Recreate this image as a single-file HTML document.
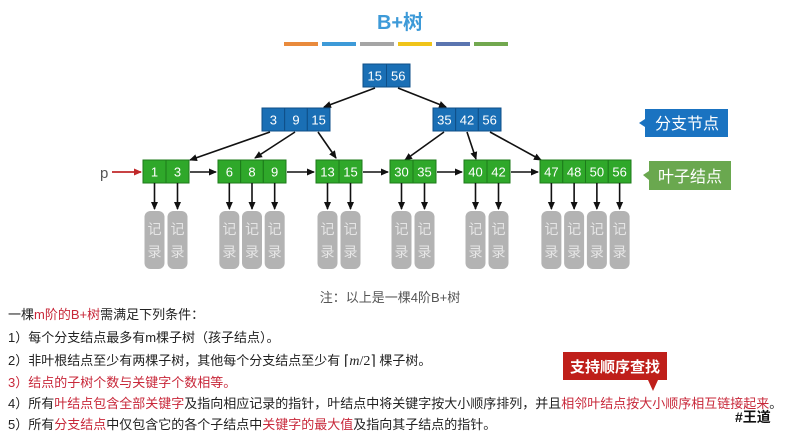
<!DOCTYPE html>
<html><head><meta charset="utf-8"><style>
body{margin:0;width:802px;height:428px;overflow:hidden;background:#fff;font-family:"Liberation Sans","Noto Sans CJK SC",sans-serif;position:relative}
.t{position:absolute;white-space:nowrap;font-size:13px;color:#222;left:8px}
.r{color:#c8283a}
</style></head><body>
<svg width="802" height="428" style="position:absolute;left:0;top:0" font-family="Liberation Sans, Noto Sans CJK SC, sans-serif">
<defs><marker id="a" markerWidth="8" markerHeight="8" refX="7" refY="4" orient="auto" markerUnits="userSpaceOnUse"><path d="M0,0.5 L8,4 L0,7.5z" fill="#111"/></marker>
<marker id="ar" markerWidth="8" markerHeight="8" refX="7" refY="4" orient="auto" markerUnits="userSpaceOnUse"><path d="M0,0.5 L8,4 L0,7.5z" fill="#c0282a"/></marker></defs>
<text x="400" y="29" text-anchor="middle" font-size="20" font-weight="bold" fill="#3d9ad8">B+树</text>
<g stroke-width="4"><line x1="284" y1="44" x2="318" y2="44" stroke="#e98a3c"/><line x1="322" y1="44" x2="356" y2="44" stroke="#3d9ad8"/><line x1="360" y1="44" x2="394" y2="44" stroke="#a5a5a5"/><line x1="398" y1="44" x2="432" y2="44" stroke="#f0c419"/><line x1="436" y1="44" x2="470" y2="44" stroke="#5b75b0"/><line x1="474" y1="44" x2="508" y2="44" stroke="#72a84f"/></g>
<g stroke="#111" stroke-width="1.6" fill="none">
<line x1="375" y1="88" x2="324" y2="107" marker-end="url(#a)"/><line x1="398" y1="88" x2="446" y2="107" marker-end="url(#a)"/>
<line x1="270" y1="132" x2="190" y2="160" marker-end="url(#a)"/><line x1="295" y1="132" x2="255" y2="158" marker-end="url(#a)"/><line x1="318" y1="132" x2="336" y2="158" marker-end="url(#a)"/>
<line x1="444" y1="132" x2="405" y2="160" marker-end="url(#a)"/><line x1="467" y1="132" x2="476" y2="159" marker-end="url(#a)"/><line x1="490" y1="132" x2="541" y2="160" marker-end="url(#a)"/>
<line x1="190" y1="172" x2="216" y2="172" marker-end="url(#a)"/><line x1="287" y1="172" x2="314" y2="172" marker-end="url(#a)"/><line x1="363" y1="172" x2="388" y2="172" marker-end="url(#a)"/><line x1="437" y1="172" x2="462" y2="172" marker-end="url(#a)"/><line x1="511" y1="172" x2="538" y2="172" marker-end="url(#a)"/>
</g>
<line x1="112" y1="172" x2="141" y2="172" stroke="#c0282a" stroke-width="1.8" marker-end="url(#ar)"/>
<text x="100" y="178" font-size="15" fill="#555">p</text>
<g id="nodes"></g>
<path d="M645,109 H728 V137 H645 V127 L639,123 L645,119 Z" fill="#1a73c1"/>
<text x="687" y="129" text-anchor="middle" font-size="16" fill="#fff">分支节点</text>
<path d="M649,161 H731 V190 H649 V180 L643,175 L649,171 Z" fill="#6aa84f"/>
<text x="690" y="182" text-anchor="middle" font-size="16" fill="#fff">叶子结点</text>
<text x="390" y="302" text-anchor="middle" font-size="13" fill="#555">注：以上是一棵4阶B+树</text>
<path d="M563,352 H667 V380 H658 L653,391 L648,380 H563 Z" fill="#bf1f1a"/>
<text x="615" y="372" text-anchor="middle" font-size="15" font-weight="bold" fill="#fff">支持顺序查找</text>
<text x="735" y="422" font-size="14" font-weight="bold" fill="#111">#王道</text>
</svg>
<div class="t" style="top:304px">一棵<span class="r">m阶的B+树</span>需满足下列条件：</div>
<div class="t" style="top:327px">1）每个分支结点最多有m棵子树（孩子结点）。</div>
<div class="t" style="top:350px">2）非叶根结点至少有两棵子树，其他每个分支结点至少有 <span style="font-family:'Liberation Serif',serif;font-size:14px">⌈<i>m</i>/2⌉</span> 棵子树。</div>
<div class="t r" style="top:372px">3）结点的子树个数与关键字个数相等。</div>
<div class="t" style="top:393px">4）所有<span class="r">叶结点包含全部关键字</span>及指向相应记录的指针，叶结点中将关键字按大小顺序排列，并且<span class="r">相邻叶结点按大小顺序相互链接起来</span>。</div>
<div class="t" style="top:414px">5）所有<span class="r">分支结点</span>中仅包含它的各个子结点中<span class="r">关键字的最大值</span>及指向其子结点的指针。</div>
<script>
var g=document.getElementById('nodes'),s='';
function node(x,y,w,keys,fill,stroke){var cw=w/keys.length;keys.forEach(function(k,i){s+='<rect x="'+(x+i*cw)+'" y="'+y+'" width="'+cw+'" height="23" fill="'+fill+'" stroke="'+stroke+'" stroke-width="1"/><text x="'+(x+i*cw+cw/2)+'" y="'+(y+16.5)+'" text-anchor="middle" font-size="13" fill="#fff">'+k+'</text>';});}
node(363,64,47,['15','56'],'#1a6fb5','#0f4f88');
node(262,108,68,['3','9','15'],'#1a6fb5','#0f4f88');
node(433,108,68,['35','42','56'],'#1a6fb5','#0f4f88');
var leaves=[[143,46,['1','3']],[218,68,['6','8','9']],[316,46,['13','15']],[390,46,['30','35']],[464,46,['40','42']],[540,91,['47','48','50','56']]];
leaves.forEach(function(l){node(l[0],160,l[1],l[2],'#2fa82a','#1c7a1a');var cw=l[1]/l[2].length;l[2].forEach(function(k,i){var cx=l[0]+i*cw+cw/2;
s+='<line x1="'+cx+'" y1="183" x2="'+cx+'" y2="209" stroke="#111" stroke-width="1.6" marker-end="url(#a)"/>';
s+='<rect x="'+(cx-10)+'" y="211" width="20" height="58" rx="6" fill="#b3b3b3"/><text x="'+cx+'" y="234" text-anchor="middle" font-size="14" fill="#e6e6e6">记</text><text x="'+cx+'" y="257" text-anchor="middle" font-size="14" fill="#e6e6e6">录</text>';});});
g.innerHTML=s;
</script>
</body></html>
